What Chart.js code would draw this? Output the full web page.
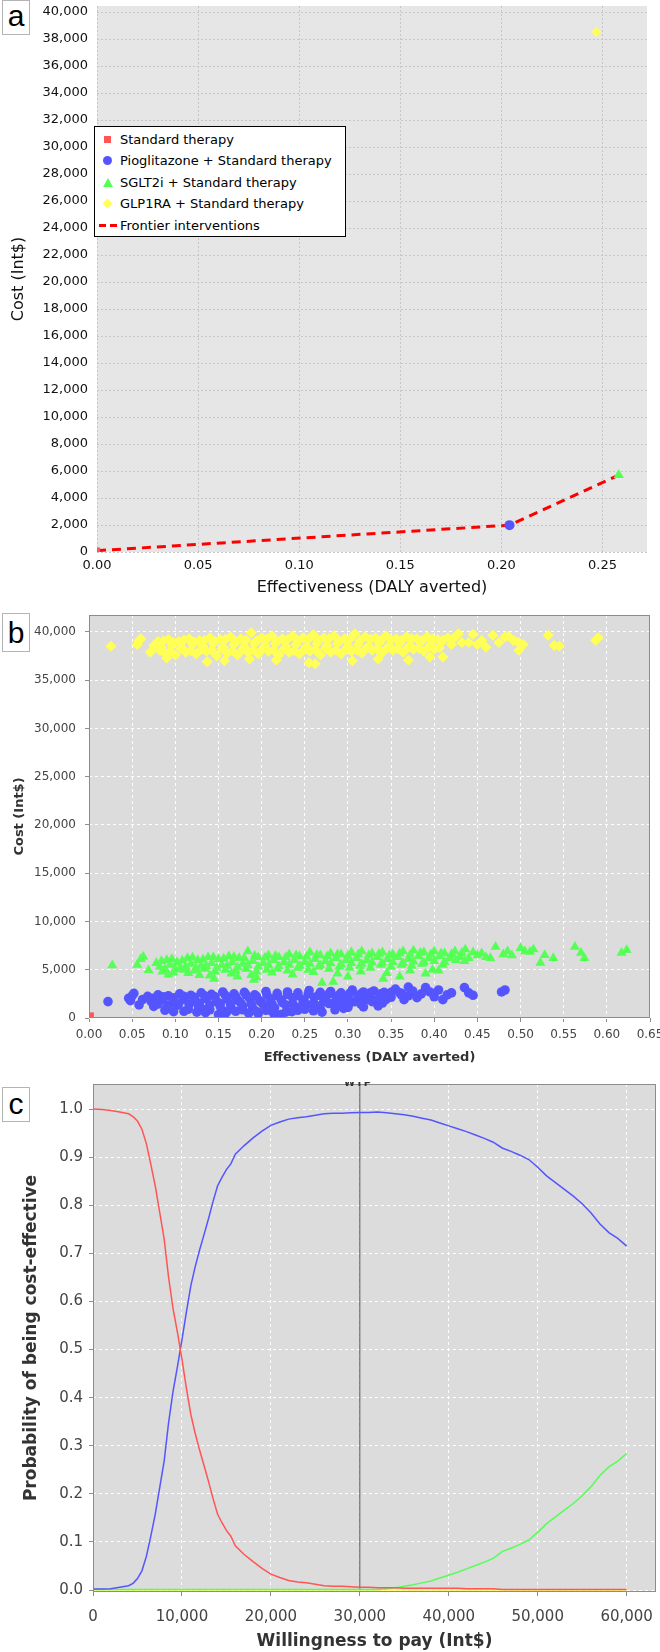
<!DOCTYPE html>
<html lang="en">
<head>
<meta charset="UTF-8">
<title>Cost-effectiveness of add-on diabetes therapies</title>
<script src="https://cdn.jsdelivr.net/npm/chart.js"></script>
<style>
    body { margin: 0; background: #fff; }
    #page { position: relative; width: 660px; height: 1652px; overflow: hidden; font-family: "DejaVu Sans", sans-serif; }
    canvas { position: absolute; left: 0; }
    #ca { top: 0; }
    #cb { top: 600px; }
    #cc { top: 1070px; }
    .tag { position: absolute; left: 2px; width: 28px; box-sizing: border-box; border: 1px solid #b4b4b4; background: #fff;
           font: 30px "Liberation Sans", sans-serif; text-align: center; color: #000; }
    #tagA { top: 0; height: 35px; line-height: 30px; }
    #tagB { top: 613px; height: 39px; line-height: 38px; }
    #tagC { top: 1087px; height: 35px; line-height: 32px; }
    #legendA { position: absolute; left: 94px; top: 126px; width: 252px; height: 111px; box-sizing: border-box;
               border: 1px solid #000; background: #fff; font: 13px "DejaVu Sans", sans-serif; color: #000; padding-top: 2px; }
    .row { position: relative; height: 21.4px; line-height: 21.4px; padding-left: 25px; white-space: nowrap; }
    .mk { position: absolute; }
    .sq { left: 9px; top: 7px; width: 7px; height: 7px; background: #ff5555; }
    .ci { left: 8px; top: 6px; width: 9px; height: 9px; border-radius: 50%; background: #5555ff; }
    .tr { left: 8px; top: 6px; width: 0; height: 0; border-left: 5px solid transparent; border-right: 5px solid transparent; border-bottom: 9px solid #55ff55; }
    .di { left: 9px; top: 7px; width: 7px; height: 7px; background: #ffff55; transform: rotate(45deg); }
    .ln { left: 4px; top: 9px; width: 18px; height: 3px; background: linear-gradient(to right, #ff0000 0 7px, transparent 7px 11px, #ff0000 11px 18px); }
    #wtpTag { position: absolute; left: 344px; top: 1082px; width: 28px; height: 6px; overflow: hidden; }
    #wtpTag span { display: block; margin-top: -5px; text-align: center; font: bold 10px "DejaVu Sans", sans-serif; color: #333; letter-spacing: 1px; }
</style>
</head>
<body>
<div id="page">
    <canvas id="ca" width="660" height="600"></canvas>
    <canvas id="cb" width="660" height="470"></canvas>
    <canvas id="cc" width="660" height="582"></canvas>

    <div class="tag" id="tagA">a</div>
    <div class="tag" id="tagB">b</div>
    <div class="tag" id="tagC">c</div>

    <div id="legendA">
        <div class="row"><span class="mk sq"></span>Standard therapy</div>
        <div class="row"><span class="mk ci"></span>Pioglitazone + Standard therapy</div>
        <div class="row"><span class="mk tr"></span>SGLT2i + Standard therapy</div>
        <div class="row"><span class="mk di"></span>GLP1RA + Standard therapy</div>
        <div class="row"><span class="mk ln"></span>Frontier interventions</div>
    </div>
    <div id="wtpTag"><span>WTP</span></div>
</div>

<script>
    // ---- panel a: base-case cost / effectiveness ----
    const names = ['Standard therapy', 'Pioglitazone + Standard therapy', 'SGLT2i + Standard therapy', 'GLP1RA + Standard therapy'];
    const aEffect = [0, 0.204, 0.258, 0.247];
    const aCost = [100, 1990, 5700, 38550];
    const aFrontier = [0, 1, 2];
    const aXTicks = [0, 0.05, 0.10, 0.15, 0.20, 0.25];
    const aYTicks = [0, 2000, 4000, 6000, 8000, 10000, 12000, 14000, 16000, 18000, 20000,
                     22000, 24000, 26000, 28000, 30000, 32000, 34000, 36000, 38000, 40000];

    // ---- panel b: probabilistic sensitivity analysis cloud [effect, cost] ----
    const psaStandard = [[0.002, 250]];
    const psaPio = [
        [0.022,1700],[0.046,2050],[0.050,2300],[0.052,2550],[0.048,1800],[0.058,1350],[0.062,1900],
        [0.068,2250],[0.080,2400],[0.092,2300],[0.105,2500],[0.118,2350],[0.130,2600],[0.142,2450],[0.155,2700],
        [0.168,2500],[0.180,2650],[0.192,2400],[0.205,2750],[0.218,2550],[0.230,2700],[0.242,2600],[0.255,2850],
        [0.268,2650],[0.280,2750],[0.292,2600],[0.305,2900],[0.318,2700],[0.330,2800],[0.342,2650],[0.355,3000],
        [0.074,2050],[0.086,2200],[0.098,2100],[0.110,2250],[0.122,2150],[0.134,2300],[0.146,2200],[0.158,2350],
        [0.170,2200],[0.182,2400],[0.194,2250],[0.206,2400],[0.218,2300],[0.230,2450],[0.242,2300],[0.254,2500],
        [0.266,2350],[0.278,2500],[0.290,2400],[0.302,2550],[0.314,2450],[0.326,2600],[0.338,2500],[0.350,2650],[0.362,2550],
        [0.072,1700],[0.085,1900],[0.098,1650],[0.110,1950],[0.123,1750],[0.136,2000],[0.148,1700],[0.160,1950],
        [0.173,1800],[0.186,2050],[0.198,1750],[0.210,2000],[0.223,1850],[0.236,2100],[0.249,1900],[0.261,2150],
        [0.274,1950],[0.287,2200],[0.300,2000],[0.312,2250],[0.325,2100],[0.337,2300],[0.350,2150],[0.362,2400],
        [0.080,1450],[0.092,1350],[0.104,1500],[0.116,1400],[0.128,1550],[0.140,1350],[0.152,1500],[0.164,1400],
        [0.176,1550],[0.188,1450],[0.200,1600],[0.212,1450],[0.224,1600],[0.236,1500],[0.248,1650],[0.260,1550],
        [0.272,1700],[0.284,1600],[0.296,1750],[0.308,1700],[0.320,1850],[0.332,1800],[0.344,1900],
        [0.075,1200],[0.090,1050],[0.102,1300],[0.115,900],[0.127,1150],[0.140,850],[0.152,1200],[0.165,950],
        [0.178,1250],[0.190,1000],[0.203,1300],[0.215,1050],[0.228,1350],[0.240,1100],[0.252,1400],[0.265,1250],
        [0.278,1500],[0.290,1350],[0.303,1600],[0.315,1450],[0.328,1700],[0.340,1550],
        [0.088,800],[0.098,650],[0.132,900],[0.160,700],[0.178,850],[0.196,450],[0.212,700],[0.242,800],
        [0.268,950],[0.295,1000],[0.318,1150],[0.335,1250],
        [0.110,700],[0.135,550],[0.170,700],[0.185,500],[0.205,800],[0.235,650],[0.250,900],[0.260,750],
        [0.125,600],[0.150,350],[0.158,450],[0.195,650],[0.215,300],[0.222,350],[0.228,600],[0.270,600],[0.285,850],[0.300,1100],
        [0.360,2600],[0.365,1900],[0.370,2300],[0.370,3200],[0.375,2800],[0.380,2100],[0.385,2500],[0.390,3150],
        [0.395,2700],[0.400,2200],[0.405,2900],[0.410,1900],[0.415,2400],[0.420,2600],[0.435,3150],[0.440,2600],
        [0.445,2350],[0.478,2700],[0.482,2900]
    ];
    const psaSglt = [
        [0.027,5450],[0.056,5500],[0.060,6100],[0.063,6350],[0.069,4950],
        [0.078,5700],[0.090,6000],[0.102,5800],[0.114,6200],[0.126,6000],[0.138,6300],[0.150,6100],[0.162,6400],
        [0.174,6200],[0.184,6900],[0.196,6300],[0.208,6500],[0.220,6300],[0.232,6600],[0.244,6400],[0.256,6800],
        [0.268,6500],[0.280,6700],[0.292,6600],[0.304,6800],[0.316,6900],[0.328,6700],[0.340,6800],[0.352,6600],
        [0.364,6900],[0.376,7000],[0.388,6800],[0.400,6900],[0.412,6700],[0.424,6900],[0.436,7100],
        [0.084,5900],[0.096,6100],[0.108,5950],[0.120,6250],[0.132,6050],[0.144,6300],[0.156,6150],[0.168,6350],
        [0.180,6200],[0.192,6450],[0.204,6250],[0.216,6450],[0.228,6300],[0.240,6500],[0.252,6350],[0.264,6550],
        [0.276,6400],[0.288,6600],[0.300,6450],[0.312,6600],[0.324,6500],[0.336,6650],[0.348,6500],[0.360,6700],
        [0.372,6550],[0.384,6750],[0.396,6600],[0.408,6700],[0.420,6600],[0.432,6750],
        [0.082,5300],[0.094,5500],[0.106,5200],[0.118,5600],[0.130,5400],[0.142,5700],[0.154,5500],[0.166,5800],
        [0.178,5600],[0.190,5900],[0.202,5700],[0.214,6000],[0.226,5800],[0.238,6000],[0.250,5800],[0.262,6100],
        [0.274,5900],[0.286,6200],[0.298,6000],[0.310,6200],[0.322,6000],[0.334,6300],[0.346,6100],[0.358,6300],
        [0.370,6100],[0.382,6400],[0.394,6200],[0.406,6400],[0.418,6200],[0.430,6300],
        [0.088,5100],[0.100,5050],[0.112,5300],[0.124,5150],[0.136,5350],[0.148,5200],[0.160,5400],[0.172,5250],
        [0.184,5450],[0.196,5300],[0.208,5450],[0.220,5350],[0.232,5500],[0.244,5400],[0.256,5600],[0.268,5450],
        [0.280,5650],[0.292,5550],[0.304,5700],[0.316,5600],[0.328,5750],[0.340,5650],[0.352,5800],[0.364,5700],
        [0.376,5850],[0.388,5750],[0.400,5900],[0.412,5800],
        [0.085,4800],[0.098,4700],[0.110,5000],[0.122,4900],[0.134,5100],[0.146,4800],[0.158,5000],[0.170,4900],
        [0.182,5100],[0.194,4800],[0.206,5000],[0.218,5100],[0.230,4900],[0.242,5200],[0.254,5000],[0.266,5300],
        [0.278,5100],[0.290,5300],[0.302,5200],[0.314,5400],[0.326,5200],[0.338,5500],[0.350,5300],[0.362,5500],
        [0.374,5400],[0.386,5600],[0.398,5000],[0.410,5500],
        [0.092,4500],[0.115,4650],[0.140,4400],[0.165,4600],[0.188,4450],[0.212,4700],[0.236,4500],[0.260,4750],
        [0.288,4600],[0.315,4800],[0.345,4650],[0.372,4900],
        [0.128,4450],[0.145,4050],[0.172,4300],[0.191,3950],[0.194,4200],[0.270,3650],[0.283,3750],[0.300,4300],
        [0.341,4050],[0.360,4300],[0.390,4600],[0.405,4900],
        [0.425,6000],[0.435,5900],[0.440,6200],[0.445,6800],[0.450,6500],[0.455,6700],[0.460,6300],[0.465,6200],
        [0.471,7380],[0.480,6600],[0.485,6900],[0.490,6500],[0.500,7250],[0.505,6900],[0.511,6860],[0.515,7100],
        [0.523,5720],[0.528,6520],[0.538,6210],[0.563,7380],[0.570,6760],[0.574,6210],[0.617,6760],[0.623,7040]
    ];
    const psaGlp = [
        [0.0255,38500],[0.056,38700],[0.058,39100],[0.060,39300],[0.071,37900],[0.075,38600],
        [0.080,39000],[0.092,39200],[0.104,39000],[0.116,39300],[0.128,39100],[0.140,39400],[0.152,39200],[0.164,39500],
        [0.176,39300],[0.188,39900],[0.200,39400],[0.212,39600],[0.224,39300],[0.236,39600],[0.248,39400],[0.260,39700],
        [0.272,39400],[0.284,39600],[0.296,39300],[0.308,39800],[0.320,39500],[0.332,39400],[0.344,39600],[0.356,39300],
        [0.368,39500],[0.380,39300],[0.392,39500],[0.404,39200],[0.416,39400],[0.428,39800],
        [0.086,39050],[0.098,38900],[0.110,39150],[0.122,38950],[0.134,39100],[0.146,39000],[0.158,39200],[0.170,38950],
        [0.182,39150],[0.194,39050],[0.206,39250],[0.218,39000],[0.230,39200],[0.242,39050],[0.254,39250],[0.266,39100],
        [0.278,39300],[0.290,39050],[0.302,39200],[0.314,39100],[0.326,39250],[0.338,39050],[0.350,39200],[0.362,39100],
        [0.374,39300],[0.386,39100],[0.398,39250],[0.410,39150],[0.422,39300],
        [0.084,38400],[0.096,38600],[0.108,38300],[0.120,38700],[0.132,38500],[0.144,38800],[0.156,38400],[0.168,38700],
        [0.180,38500],[0.192,38800],[0.204,38600],[0.216,38800],[0.228,38500],[0.240,38700],[0.252,38500],[0.264,38800],
        [0.276,38600],[0.288,38800],[0.300,38500],[0.312,38700],[0.324,38500],[0.336,38800],[0.348,38600],[0.360,38800],
        [0.372,38600],[0.384,38900],[0.396,38700],[0.408,38900],[0.420,38700],[0.432,38900],
        [0.082,38100],[0.094,38000],[0.106,38250],[0.118,38050],[0.130,38200],[0.142,38100],[0.154,38250],[0.166,38050],
        [0.178,38200],[0.190,38150],[0.202,38300],[0.214,38100],[0.226,38250],[0.238,38050],[0.250,38200],[0.262,38150],
        [0.274,38300],[0.286,38100],[0.298,38250],[0.310,38150],[0.322,38350],[0.334,38200],[0.346,38350],[0.358,38250],
        [0.370,38400],[0.382,38300],[0.394,38450],[0.406,38350],
        [0.088,37800],[0.100,37600],[0.112,37900],[0.124,37700],[0.136,38000],[0.148,37500],[0.160,37800],[0.172,37600],
        [0.184,37900],[0.196,37700],[0.208,38000],[0.220,37600],[0.232,37900],[0.244,37700],[0.256,38000],[0.268,37600],
        [0.280,37900],[0.292,37700],[0.304,38000],[0.316,37800],[0.328,38100],[0.340,37900],[0.352,38100],[0.364,37900],
        [0.376,38200],[0.388,38000],[0.400,38200],
        [0.090,37300],[0.137,36900],[0.157,37000],[0.186,37200],[0.217,37100],[0.255,36800],[0.262,36700],[0.305,37000],
        [0.335,37200],[0.370,37100],[0.395,37400],[0.410,37400],
        [0.440,38900],[0.445,39750],[0.450,38700],[0.455,39100],[0.460,38400],[0.468,39650],[0.475,38900],[0.482,39470],
        [0.486,39540],[0.492,39100],[0.497,38950],[0.498,38100],[0.503,38700],[0.532,39650],[0.539,38600],[0.545,38540],
        [0.587,39130],[0.590,39400]
    ];
    const bXTicks = [0, 0.05, 0.10, 0.15, 0.20, 0.25, 0.30, 0.35, 0.40, 0.45, 0.50, 0.55, 0.60, 0.65];
    const bYTicks = [0, 5000, 10000, 15000, 20000, 25000, 30000, 35000, 40000];

    // ---- panel c: acceptability curves ----
    const wtp = [0, 1000, 2000, 3000, 4000, 4500, 5000, 5500, 6000, 6500, 7000, 7500, 8000, 8500, 9000, 9500,
                 10000, 10500, 11000, 11500, 12000, 12500, 13000, 13500, 14000, 14500, 15000, 15500, 16000,
                 17000, 18000, 19000, 20000, 21000, 22000, 23000, 24000, 25000, 26000, 27000, 28000, 29000, 30000,
                 31000, 32000, 33000, 34000, 35000, 36000, 37000, 38000, 39000, 40000, 41000, 42000, 43000, 44000,
                 45000, 46000, 47000, 48000, 49000, 50000, 51000, 52000, 53000, 54000, 55000, 56000, 57000, 58000,
                 59000, 60000];
    const probStandard = [1.000, 0.999, 0.997, 0.994, 0.990, 0.984, 0.975, 0.958, 0.928, 0.885, 0.840, 0.785, 0.730, 0.650, 0.585, 0.535,
                          0.480, 0.420, 0.365, 0.325, 0.290, 0.258, 0.225, 0.190, 0.158, 0.140, 0.124, 0.112, 0.092,
                          0.074, 0.059, 0.045, 0.033, 0.026, 0.020, 0.017, 0.015, 0.012, 0.009, 0.008, 0.008, 0.007, 0.006,
                          0.006, 0.005, 0.005, 0.005, 0.004, 0.004, 0.004, 0.004, 0.004, 0.004, 0.004, 0.003, 0.003, 0.003,
                          0.003, 0.001, 0.001, 0.001, 0.001, 0.001, 0.001, 0.001, 0.001, 0.001, 0.001, 0.001, 0.001, 0.001,
                          0.001, 0.001];
    const probPio = [0.002, 0.002, 0.003, 0.006, 0.009, 0.014, 0.024, 0.040, 0.070, 0.112, 0.158, 0.213, 0.268, 0.348, 0.413, 0.465,
                     0.520, 0.578, 0.633, 0.673, 0.708, 0.740, 0.773, 0.808, 0.840, 0.858, 0.874, 0.886, 0.906,
                     0.924, 0.940, 0.954, 0.966, 0.973, 0.979, 0.982, 0.984, 0.987, 0.990, 0.991, 0.991, 0.992, 0.993,
                     0.993, 0.994, 0.992, 0.990, 0.988, 0.985, 0.981, 0.977, 0.971, 0.965, 0.959, 0.953, 0.946, 0.939,
                     0.931, 0.919, 0.912, 0.904, 0.895, 0.879, 0.861, 0.847, 0.833, 0.819, 0.803, 0.784, 0.761, 0.743,
                     0.731, 0.715];
    const probSglt = [0.001, 0.001, 0.001, 0.001, 0.001, 0.001, 0.001, 0.001, 0.001, 0.001, 0.001, 0.001, 0.001, 0.001, 0.001, 0.001,
                      0.001, 0.001, 0.001, 0.001, 0.001, 0.001, 0.001, 0.001, 0.001, 0.001, 0.001, 0.001, 0.001,
                      0.001, 0.001, 0.001, 0.001, 0.001, 0.001, 0.001, 0.001, 0.001, 0.001, 0.001, 0.001, 0.001, 0.001,
                      0.001, 0.001, 0.003, 0.005, 0.008, 0.011, 0.015, 0.019, 0.025, 0.031, 0.037, 0.044, 0.051, 0.058,
                      0.066, 0.080, 0.087, 0.095, 0.104, 0.120, 0.138, 0.152, 0.166, 0.180, 0.196, 0.215, 0.238, 0.256,
                      0.268, 0.284];
    const glpWtp = [0, 60000];
    const probGlp = [0, 0];
    const wtpThreshold = 30000;
    const cXTicks = [0, 10000, 20000, 30000, 40000, 50000, 60000];
    const cYTicks = [0, 0.1, 0.2, 0.3, 0.4, 0.5, 0.6, 0.7, 0.8, 0.9, 1.0];
    const cYMin = -0.004, cYMax = 1.052;

    // styles
    const colors = ['#ff5555', '#5555ff', '#55ff55', '#ffff55'];
    const shapes = ['rect', 'circle', 'triangle', 'rectRot'];
    const FONT = 'DejaVu Sans';

    // plot background and frame
    const plotFrame = {
        id: 'plotFrame',
        beforeDraw(chart, args, opts) {
            const a = chart.chartArea, ctx = chart.ctx;
            ctx.save();
            ctx.fillStyle = opts.fill;
            ctx.fillRect(a.left, a.top, a.right - a.left, a.bottom - a.top);
            ctx.restore();
        },
        afterDraw(chart, args, opts) {
            if (!opts.stroke) return;
            const a = chart.chartArea, ctx = chart.ctx;
            ctx.save();
            ctx.strokeStyle = opts.stroke;
            ctx.lineWidth = 1;
            ctx.strokeRect(Math.round(a.left) + 0.5, Math.round(a.top) + 0.5, Math.round(a.right - a.left) - 1, Math.round(a.bottom - a.top) - 1);
            ctx.restore();
        }
    };

    function axis(o) {
        return {
            type: 'linear', min: o.min, max: o.max,
            afterBuildTicks: s => { s.ticks = o.ticks.map(v => ({ value: v })); },
            afterFit: s => {
                if (o.width) s.width = o.width;
                if (o.height) s.height = o.height;
                s.paddingLeft = 0; s.paddingRight = 0; s.paddingTop = 0; s.paddingBottom = 0;
            },
            ticks: { autoSkip: false, maxRotation: 0, padding: o.pad, color: o.tickColor, font: { family: FONT, size: o.tickSize }, callback: o.fmt },
            grid: { color: o.gridColor, lineWidth: 1, drawTicks: o.tickLen > 0, tickLength: o.tickLen, tickColor: '#8c8c8c', tickWidth: 1 },
            border: { display: false, dash: o.dash },
            title: { display: true, text: o.title, color: o.titleColor, padding: o.titlePad,
                     font: { family: FONT, size: o.titleSize, weight: o.bold ? 'bold' : 'normal' } }
        };
    }
    const thousands = v => v.toLocaleString('en-US');
    const twoDp = v => v.toFixed(2);
    const oneDp = v => v.toFixed(1);
    const pts = arr => arr.map(p => ({ x: p[0], y: p[1] }));

    // ---------- a ----------
    const aRadius = [4.5, 5, 6, 5];
    new Chart(document.getElementById('ca'), {
        type: 'scatter',
        data: {
            datasets: [
                ...names.map((n, i) => ({
                    label: n, data: [{ x: aEffect[i], y: aCost[i] }], pointStyle: shapes[i], pointRadius: aRadius[i],
                    backgroundColor: colors[i], borderWidth: 0, clip: 0
                })),
                {
                    label: 'Frontier interventions', data: aFrontier.map(i => ({ x: aEffect[i], y: aCost[i] })),
                    showLine: true, borderColor: '#ff0000', borderWidth: 3, borderDash: [9, 6], pointRadius: 0, clip: 0
                }
            ]
        },
        options: {
            responsive: false, animation: false,
            layout: { padding: { left: 0, right: 13, top: 3, bottom: 0 } },
            plugins: { legend: { display: false }, tooltip: { enabled: false }, plotFrame: { fill: '#e6e6e6' } },
            scales: {
                x: axis({ min: 0, max: 0.272, ticks: aXTicks, height: 48, pad: 6, tickColor: '#111', tickSize: 13, fmt: twoDp,
                          gridColor: '#c6c6c6', dash: [2, 2], tickLen: 0, title: 'Effectiveness (DALY averted)', titleColor: '#111',
                          titleSize: 16, titlePad: { top: 0, bottom: 2.4 } }),
                y: axis({ min: 0, max: 40450, ticks: aYTicks, width: 97, pad: 9, tickColor: '#111', tickSize: 13, fmt: thousands,
                          gridColor: '#c6c6c6', dash: [2, 2], tickLen: 0, title: 'Cost (Int$)', titleColor: '#111',
                          titleSize: 16, titlePad: { top: 9.5, bottom: 0 } })
            }
        },
        plugins: [plotFrame]
    });

    // ---------- b ----------
    const bSeries = [psaStandard, psaPio, psaSglt, psaGlp];
    const bRadius = [4.5, 4.8, 5.8, 5.5];
    new Chart(document.getElementById('cb'), {
        type: 'scatter',
        data: {
            datasets: bSeries.map((s, i) => ({
                label: names[i], data: pts(s), pointStyle: shapes[i], pointRadius: bRadius[i],
                backgroundColor: colors[i], borderWidth: 0, clip: 0
            }))
        },
        options: {
            responsive: false, animation: false,
            layout: { padding: { left: 0, right: 10, top: 15, bottom: 0 } },
            plugins: { legend: { display: false }, tooltip: { enabled: false }, plotFrame: { fill: '#dcdcdc', stroke: '#8c8c8c' } },
            scales: {
                x: axis({ min: 0, max: 0.65, ticks: bXTicks, height: 52, pad: 6, tickColor: '#444', tickSize: 12, fmt: twoDp,
                          gridColor: '#ffffff', dash: [3, 3], tickLen: 4, title: 'Effectiveness (DALY averted)', titleColor: '#333',
                          titleSize: 13, bold: true, titlePad: { top: 0, bottom: 5 } }),
                y: axis({ min: 0, max: 41750, ticks: bYTicks, width: 89, pad: 9, tickColor: '#444', tickSize: 12, fmt: thousands,
                          gridColor: '#ffffff', dash: [3, 3], tickLen: 4, title: 'Cost (Int$)', titleColor: '#333',
                          titleSize: 13, bold: true, titlePad: { top: 12, bottom: 0 } })
            }
        },
        plugins: [plotFrame]
    });

    // ---------- c ----------
    const curve = (xs, ys) => xs.map((x, i) => ({ x: x, y: ys[i] }));
    const cLine = (label, data, color, width) => ({
        label: label, data: data, borderColor: color, borderWidth: width, pointRadius: 0, tension: 0, fill: false
    });
    new Chart(document.getElementById('cc'), {
        type: 'line',
        data: {
            datasets: [
                cLine(names[0], curve(wtp, probStandard), colors[0], 1.5),
                cLine(names[1], curve(wtp, probPio), colors[1], 1.5),
                cLine(names[2], curve(wtp, probSglt), colors[2], 1.5),
                cLine(names[3], curve(glpWtp, probGlp), colors[3], 1.5),
                cLine('WTP', [{ x: wtpThreshold, y: cYMin }, { x: wtpThreshold, y: cYMax }], '#555555', 1)
            ]
        },
        options: {
            responsive: false, animation: false,
            layout: { padding: { left: 0, right: 4, top: 14, bottom: 0 } },
            plugins: { legend: { display: false }, tooltip: { enabled: false }, plotFrame: { fill: '#dcdcdc', stroke: '#8c8c8c' } },
            scales: {
                x: axis({ min: 0, max: 63300, ticks: cXTicks, height: 60, pad: 12, tickColor: '#444', tickSize: 15, fmt: thousands,
                          gridColor: '#ffffff', dash: [3, 3], tickLen: 4, title: 'Willingness to pay (Int$)', titleColor: '#333',
                          titleSize: 17, bold: true, titlePad: { top: 0, bottom: 0 } }),
                y: axis({ min: cYMin, max: cYMax, ticks: cYTicks, width: 93, pad: 6, tickColor: '#444', tickSize: 15, fmt: oneDp,
                          gridColor: '#ffffff', dash: [3, 3], tickLen: 4, title: 'Probability of being cost-effective', titleColor: '#333',
                          titleSize: 17, bold: true, titlePad: { top: 21, bottom: 0 } })
            }
        },
        plugins: [plotFrame]
    });
</script>
</body>
</html>
